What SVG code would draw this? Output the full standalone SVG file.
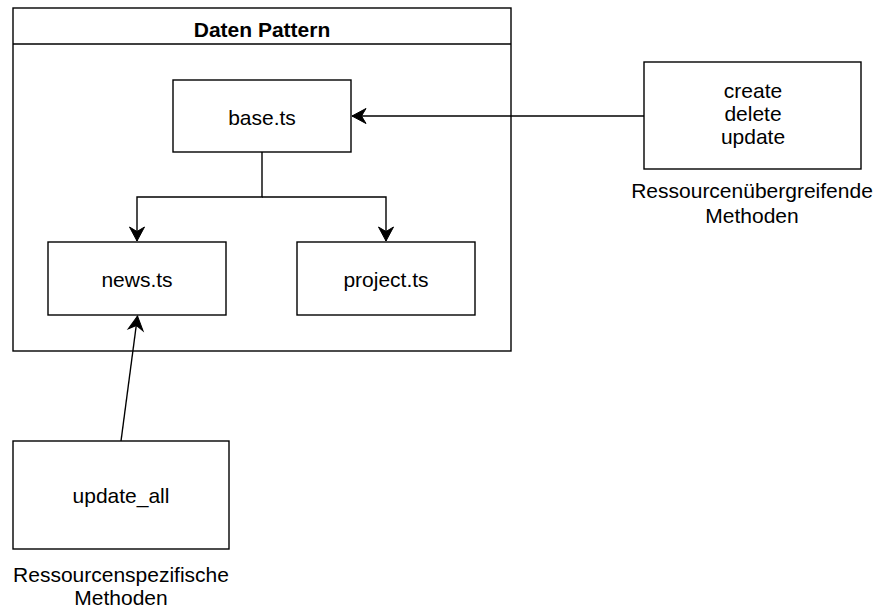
<svg xmlns="http://www.w3.org/2000/svg" width="878" height="610" viewBox="0 0 878 610">
<style>
.box{fill:#fff;stroke:#000;stroke-width:1.4}
.t{font-family:"Liberation Sans",Arial,sans-serif;font-size:21px;fill:#000;text-anchor:middle}
.b{font-weight:bold}
.c{fill:none;stroke:#000;stroke-width:1.4}
</style>
<defs>
<marker id="arr" markerUnits="userSpaceOnUse" markerWidth="20" markerHeight="20" viewBox="-16 -10 20 20" refX="0" refY="0" orient="auto">
<path d="M0,0 L-14,-7.5 L-9.5,0 L-14,7.5 Z" fill="#000" stroke="#000" stroke-width="1"/>
</marker>
</defs>
<rect width="878" height="610" fill="#fff"/>
<g id="container">
<rect class="box" x="13" y="8" width="498" height="343"/>
<line class="c" x1="13" y1="44" x2="511" y2="44"/>
<text class="t b" x="262" y="36.5">Daten Pattern</text>
</g>
<g id="base">
<rect class="box" x="173" y="80" width="178" height="72"/>
<text class="t" x="262" y="124.5">base.ts</text>
</g>
<g id="news">
<rect class="box" x="48" y="242" width="178" height="73"/>
<text class="t" x="137" y="287">news.ts</text>
</g>
<g id="project">
<rect class="box" x="297" y="242" width="178" height="73"/>
<text class="t" x="386" y="287">project.ts</text>
</g>
<g id="methods">
<rect class="box" x="644" y="62" width="217" height="107"/>
<text class="t" x="753" y="98">create</text>
<text class="t" x="753" y="121">delete</text>
<text class="t" x="753" y="144">update</text>
<text class="t" x="752" y="198">Ressourcenübergreifende</text>
<text class="t" x="752" y="223">Methoden</text>
</g>
<g id="update_all">
<rect class="box" x="13" y="441" width="216" height="108"/>
<text class="t" x="121" y="503">update_all</text>
<text class="t" x="121" y="582">Ressourcenspezifische</text>
<text class="t" x="121" y="605">Methoden</text>
</g>
<g id="connectors">
<polyline class="c" points="262,152 262,197 137,197 137,241" marker-end="url(#arr)"/>
<polyline class="c" points="262,197 386,197 386,241" marker-end="url(#arr)"/>
<line class="c" x1="644" y1="116" x2="352" y2="116" marker-end="url(#arr)"/>
<line class="c" x1="121" y1="441" x2="137.5" y2="316" marker-end="url(#arr)"/>
</g>
</svg>
